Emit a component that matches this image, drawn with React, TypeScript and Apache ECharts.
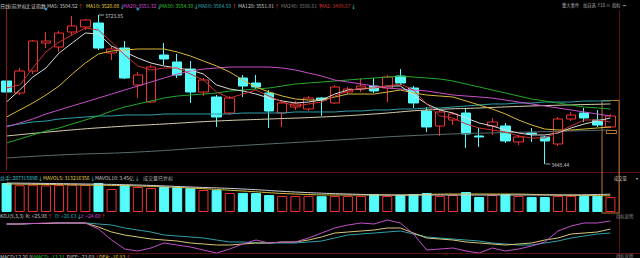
import React, { useEffect, useRef } from "react";
import * as echarts from "echarts";

const days = [
  "D01","D02","D03","D04","D05","D06","D07","D08","D09","D10",
  "D11","D12","D13","D14","D15","D16","D17","D18","D19","D20",
  "D21","D22","D23","D24","D25","D26","D27","D28","D29","D30",
  "D31","D32","D33","D34","D35","D36","D37","D38","D39","D40",
  "D41","D42","D43","D44","D45","D46","D47",
];

// [open, close, low, high]
const candles = [
  [3601.9, 3581.5, 3570.4, 3614.8],
  [3579.7, 3620.3, 3576.0, 3625.9],
  [3620.3, 3675.8, 3614.8, 3677.6],
  [3672.1, 3675.8, 3662.8, 3692.4],
  [3664.7, 3690.6, 3655.5, 3694.3],
  [3692.4, 3703.5, 3686.9, 3722.0],
  [3701.7, 3714.6, 3696.1, 3716.5],
  [3709.1, 3662.8, 3659.2, 3723.85],
  [3653.6, 3661.0, 3640.7, 3666.5],
  [3662.8, 3607.4, 3605.6, 3675.8],
  [3594.5, 3612.9, 3570.4, 3618.5],
  [3563.0, 3627.7, 3561.2, 3631.4],
  [3649.9, 3642.5, 3631.4, 3672.1],
  [3637.0, 3612.9, 3607.4, 3651.8],
  [3624.0, 3581.5, 3561.2, 3638.8],
  [3581.5, 3603.7, 3574.1, 3607.4],
  [3572.3, 3535.3, 3516.9, 3576.0],
  [3542.7, 3570.4, 3539.0, 3574.1],
  [3607.4, 3592.6, 3572.3, 3612.9],
  [3598.2, 3590.8, 3587.1, 3612.9],
  [3579.7, 3546.4, 3515.0, 3585.2],
  [3542.7, 3561.2, 3516.9, 3566.7],
  [3553.8, 3559.4, 3548.3, 3564.9],
  [3550.1, 3570.4, 3546.4, 3574.1],
  [3570.4, 3566.7, 3537.2, 3572.3],
  [3561.2, 3590.8, 3559.4, 3594.5],
  [3581.5, 3587.1, 3577.8, 3590.8],
  [3587.1, 3592.6, 3581.5, 3607.4],
  [3592.6, 3583.4, 3579.7, 3607.4],
  [3588.9, 3609.2, 3563.0, 3612.9],
  [3611.1, 3598.2, 3594.5, 3624.0],
  [3588.9, 3561.2, 3552.0, 3592.6],
  [3546.4, 3516.9, 3507.6, 3553.8],
  [3518.7, 3544.6, 3500.2, 3548.3],
  [3529.8, 3540.9, 3520.5, 3544.6],
  [3542.7, 3503.9, 3478.0, 3552.0],
  [3500.2, 3498.4, 3479.9, 3515.0],
  [3518.7, 3526.1, 3502.1, 3533.5],
  [3518.7, 3491.0, 3487.3, 3524.2],
  [3489.1, 3498.4, 3483.6, 3502.1],
  [3505.8, 3503.9, 3489.1, 3515.0],
  [3498.4, 3491.0, 3448.44, 3500.2],
  [3485.4, 3531.6, 3481.7, 3535.3],
  [3531.6, 3539.0, 3527.9, 3544.6],
  [3542.7, 3533.5, 3526.1, 3552.0],
  [3529.8, 3520.5, 3516.9, 3548.3],
  [3516.9, 3537.2, 3515.0, 3540.9],
];

// volume, millions of lots
const volumes = [
  561, 518, 527, 515, 521, 530, 524, 560, 445, 522,
  484, 464, 484, 480, 462, 426, 424, 368, 370, 366,
  329, 310, 308, 312, 306, 309, 311, 308, 348, 310,
  329, 348, 368, 310, 329, 387, 290, 329, 348, 310,
  292, 290, 310, 312, 309, 310, 287.3,
];

const ma2 = [
  3588.9, 3594.5, 3625.9, 3655.5, 3673.9, 3686.9, 3699.8, 3696.1, 3673.9, 3649.9,
  3629.6, 3622.2, 3625.9, 3625.9, 3614.8, 3603.7, 3581.5, 3570.4, 3577.8, 3585.2,
  3574.1, 3563.0, 3555.7, 3559.4, 3563.0, 3574.1, 3583.4, 3588.9, 3588.9, 3592.6,
  3596.3, 3585.2, 3559.4, 3537.2, 3533.5, 3522.4, 3515.0, 3511.3, 3507.6, 3500.2,
  3496.5, 3496.5, 3507.6, 3518.7, 3529.8, 3529.8, 3526.1,
];
const ma5 = [
  3563.0, 3585.2, 3609.2, 3625.9, 3653.6, 3672.1, 3690.6, 3688.7, 3666.5, 3655.5,
  3644.4, 3635.1, 3629.6, 3625.9, 3622.2, 3614.8, 3594.5, 3587.1, 3583.4, 3577.8,
  3570.4, 3564.9, 3561.2, 3563.0, 3566.7, 3577.8, 3585.2, 3587.1, 3588.9, 3592.6,
  3592.6, 3576.0, 3559.4, 3548.3, 3542.7, 3533.5, 3524.2, 3518.7, 3511.3, 3505.8,
  3502.1, 3502.1, 3505.8, 3515.0, 3522.4, 3527.9, 3533.5,
];
const ma10 = [
  3535.3, 3548.3, 3561.2, 3576.0, 3592.6, 3614.8, 3635.1, 3651.8, 3657.3, 3659.2,
  3661.0, 3661.0, 3661.0, 3655.5, 3648.1, 3638.8, 3629.6, 3618.5, 3603.7, 3590.8,
  3581.5, 3574.1, 3568.6, 3566.7, 3566.7, 3572.3, 3577.8, 3577.8, 3577.8, 3581.5,
  3585.2, 3579.7, 3576.0, 3574.1, 3572.3, 3564.9, 3557.5, 3550.1, 3540.9, 3529.8,
  3520.5, 3513.1, 3511.3, 3511.3, 3513.1, 3515.0, 3516.9,
];
const ma20 = [
  3516.9, 3524.2, 3531.6, 3540.9, 3548.3, 3555.7, 3563.0, 3570.4, 3577.8, 3585.2,
  3592.6, 3600.0, 3607.4, 3614.8, 3620.3, 3624.0, 3625.9, 3627.7, 3627.7, 3627.7,
  3627.7, 3625.9, 3622.2, 3616.6, 3611.1, 3603.7, 3600.0, 3596.3, 3592.6, 3588.9,
  3587.1, 3585.2, 3583.4, 3579.7, 3576.0, 3574.1, 3572.3, 3570.4, 3566.7, 3563.0,
  3559.4, 3555.7, 3552.0, 3548.3, 3544.6, 3540.9, 3537.2,
];
const ma30 = [
  3487.3, 3494.6, 3502.1, 3509.4, 3515.0, 3522.4, 3529.8, 3537.2, 3546.4, 3553.8,
  3559.4, 3564.9, 3570.4, 3574.1, 3576.0, 3577.8, 3579.7, 3583.4, 3585.2, 3587.1,
  3588.9, 3592.6, 3596.3, 3598.2, 3600.0, 3601.9, 3603.7, 3605.6, 3607.4, 3609.2,
  3611.1, 3609.2, 3607.4, 3605.6, 3601.9, 3596.3, 3590.8, 3585.2, 3579.7, 3574.1,
  3568.6, 3564.9, 3561.2, 3557.5, 3553.8, 3552.0, 3550.1,
];
const ma60 = [
  3518.7, 3522.4, 3526.1, 3527.9, 3531.6, 3533.5, 3535.3, 3537.2, 3537.2, 3539.0,
  3539.0, 3539.0, 3540.9, 3540.9, 3540.9, 3540.9, 3540.9, 3540.9, 3542.7, 3542.7,
  3542.7, 3542.7, 3544.6, 3544.6, 3544.6, 3544.6, 3546.4, 3546.4, 3548.3, 3548.3,
  3550.1, 3550.1, 3552.0, 3552.0, 3553.8, 3555.7, 3557.5, 3559.4, 3559.4, 3561.2,
  3561.2, 3563.0, 3563.0, 3563.0, 3564.9, 3564.9, 3564.9,
];
// [day index, value] key points
const ma120 = [
  [0, 3500.2], [4, 3509.4], [8, 3516.9], [12, 3522.4], [16, 3527.9], [20, 3531.6],
  [24, 3535.3], [28, 3540.9], [32, 3548.3], [36, 3552.0], [40, 3555.7], [46, 3559.4],
];
const ma240 = [
  [0, 3459.5], [4, 3465.1], [10, 3470.6], [16, 3479.9], [24, 3491.0], [32, 3502.1],
  [40, 3507.6], [46, 3511.3],
];
const mavol5 = [
  [0, 542], [6, 522], [10, 503], [14, 464], [18, 406], [22, 348], [26, 329],
  [30, 329], [34, 348], [38, 348], [42, 329], [46, 313],
];
const mavol10 = [
  [0, 561], [6, 542], [10, 522], [14, 484], [18, 445], [22, 387], [26, 348],
  [30, 329], [34, 329], [38, 329], [42, 329], [46, 345],
];
const kLine = [
  87, 87, 88.5, 88.5, 90, 90, 90, 78, 63, 54, 48, 42, 39, 36, 30, 27, 24, 24, 27, 30,
  30, 33, 33, 39, 48, 60, 63, 66, 69, 75, 75, 60, 45, 42, 39, 33, 30, 27, 24, 27,
  30, 39, 45, 57, 60, 63, 72,
];
const dLine = [
  87, 87, 88.5, 88.5, 90, 90, 90, 87, 84, 75, 69, 63, 54, 51, 48, 45, 39, 33, 33, 30,
  30, 30, 30, 33, 36, 45, 54, 57, 60, 63, 66, 57, 48, 45, 42, 39, 36, 30, 27, 24,
  24, 30, 36, 45, 51, 57, 60,
];
const jLine = [
  87, 87, 88.5, 90, 90, 90, 90, 72, 39, 12, 6, 15, 30, 24, 18, 9, 0, 12, 27, 39,
  30, 33, 33, 45, 60, 75, 84, 90, 87, 99, 90, 57, 9, 12, 15, 6, 0, 15, 6, 12,
  21, 33, 66, 81, 90, 90, 96,
];
const eventDays = [3, 10];
const eventLevel = 3734.9;

const FONT = '"Noto Sans CJK SC", "Noto Sans", sans-serif';
const RED = "#f03232";
const CYAN = "#54fcfc";
const W = "#c8c8c8";
const YEL = "#e0d040";
const MAG = "#d848d8";
const GRN = "#30c030";
const TEAL = "#30a8b8";
const GRAY = "#7a7a7a";

type Part = [string, string];
// text blocks: [left x, centre y, size, parts]
const texts: [number, number, number, Part[]][] = [
  [0, 5, 5, [["日线(前复权)", W]]],
  [26, 5, 5, [["上证指数", W]]],
  [47, 5, 5, [["MA5: 3504.52", W], ["↑", RED]]],
  [86, 5, 5, [["MA10: 3520.08", YEL], ["↓", CYAN]]],
  [123, 5, 5, [["MA20: 3551.32", MAG], ["↓", CYAN]]],
  [160, 5, 5, [["MA30: 3554.30", GRN], ["↓", CYAN]]],
  [198, 5, 5, [["MA60: 3564.50", TEAL], ["↑", RED]]],
  [238, 5, 5, [["MA120: 3551.01", W], ["↑", RED]]],
  [281, 5, 5, [["MA240: 3506.61", GRAY], ["↑", RED]]],
  [320, 5, 5, [["MA2: 3499.67", "#c83030"], ["↓", CYAN]]],
  [562, 5, 4.3, [["重大事件", "#b0b0b0"]]],
  [583, 5, 4.3, [["加自选", "#b0b0b0"]]],
  [598, 5, 4.3, [["F10", "#b0b0b0"]]],
  [606, 5, 4.3, [["≡", "#b0b0b0"]]],
  [612, 5, 4.3, [["指标", "#b0b0b0"]]],
  [623, 5, 4.3, [["⇤", "#d0d0d0"]]],
  [0, 177, 5, [["总手: 287315890", "#40c8d8"], ["↓", CYAN]]],
  [43, 177, 5, [["MAVOL5: 313216356", YEL], ["↓", CYAN]]],
  [95, 177, 5, [["MAVOL10: 3.45亿", W], ["↓", CYAN]]],
  [143, 177, 5, [["成交量已复权", "#a8a8a8"]]],
  [614, 177.5, 4.3, [["成交量", "#c0c0c0"]]],
  [636, 177.5, 4.3, [["▾", "#c0c0c0"]]],
  [0, 215, 5, [["KDJ(9,3,3)  K: +25.98", W], ["↑", RED]]],
  [55, 215, 5, [["D: +26.63", TEAL], ["↓", CYAN]]],
  [80, 215, 5, [["J: +24.68", MAG], ["↑", RED]]],
  [616, 216, 4.3, [["指标说明", "#909090"]]],
  [0, 256.5, 5, [["MACD(12,26,9)", W]]],
  [34, 256.5, 5, [["MACD: -13.31", GRN], ["↑", RED]]],
  [67, 256.5, 5, [["DIFF: -23.69", W], ["↑", RED]]],
  [99, 256.5, 5, [["DEA: -16.93", YEL], ["↑", RED]]],
  [616, 256, 4.3, [["指标说明", "#909090"]]],
];

function buildTexts() {
  const ctx = document.createElement("canvas").getContext("2d")!;
  ctx.font = `10px ${FONT}`;
  const out: any[] = [];
  texts.forEach(([x0, y, size, parts]) => {
    const s = size / 10;
    let x = x0;
    parts.forEach(([t, c]) => {
      out.push({
        type: "text", silent: true, x, y, scaleX: s, scaleY: s, z: 100,
        style: { text: t, fill: c, fontSize: 10, fontFamily: FONT, verticalAlign: "middle", align: "left" },
      });
      x += ctx.measureText(t).width * s + 0.6;
    });
  });
  return out;
}

function lineSeries(data: any[], color: string, grid: number, smooth = false) {
  return {
    type: "line", xAxisIndex: grid, yAxisIndex: grid, data, symbol: "none", smooth,
    lineStyle: { width: 1, color }, itemStyle: { color }, silent: true, z: 3,
  };
}

export default function App() {
  const ref = useRef<HTMLDivElement>(null);
  useEffect(() => {
    if (!ref.current) return;
    const chart = echarts.init(ref.current, null, { renderer: "svg" });
    let hi = 0, lo = 0;
    candles.forEach((c, i) => {
      if (c[3] > candles[hi][3]) hi = i;
      if (c[2] < candles[lo][2]) lo = i;
    });
    const option: any = {
      animation: false,
      backgroundColor: "#000",
      grid: [
        { left: 0, top: 8, width: 617, height: 162 },
        { left: 0, top: 181, width: 617, height: 31 },
        { left: 0, top: 218, width: 617, height: 35 },
      ],
      xAxis: [0, 1, 2].map((g) => ({
        type: "category", gridIndex: g, data: days, boundaryGap: true, show: false,
      })),
      yAxis: [
        { gridIndex: 0, min: 3437.35, max: 3736.8, show: false, splitLine: { show: false } },
        { gridIndex: 1, min: 0, max: 600, show: false, splitLine: { show: false } },
        { gridIndex: 2, min: 0, max: 105, show: false, splitLine: { show: false } },
      ],
      series: [
        {
          type: "candlestick", xAxisIndex: 0, yAxisIndex: 0, data: candles, barWidth: 10,
          silent: true,
          itemStyle: {
            color: "#000", color0: CYAN, borderColor: RED, borderColor0: CYAN, borderWidth: 1,
          },
          markLine: {
            silent: true, symbol: ["none", "none"], label: { show: false },
            lineStyle: { color: "#8a1c1c", width: 1, type: "solid" },
            data: [{ xAxis: days[0] }],
          },
          markPoint: {
            silent: true, symbol: "rect", symbolSize: [5, 0.8], symbolOffset: [3, 0],
            itemStyle: { color: W },
            label: {
              show: true, position: "right", distance: 1, color: W, fontSize: 5,
              fontFamily: FONT, formatter: (p: any) => p.value,
            },
            data: [
              { coord: [days[hi], candles[hi][3]], value: candles[hi][3].toFixed(2) },
              { coord: [days[lo], candles[lo][2]], value: candles[lo][2].toFixed(2) },
            ],
          },
        },
        lineSeries(ma240.map((p) => [days[p[0]], p[1]]), "#5a6e70", 0, true),
        lineSeries(ma120.map((p) => [days[p[0]], p[1]]), "#d8d0b0", 0, true),
        lineSeries(ma60, "#2e9ea8", 0),
        lineSeries(ma30, "#28a828", 0),
        lineSeries(ma20, "#c850c8", 0),
        lineSeries(ma10, "#d8b838", 0),
        lineSeries(ma5, "#d8d8d8", 0),
        lineSeries(ma2, "#c83030", 0),
        {
          type: "scatter", xAxisIndex: 0, yAxisIndex: 0, silent: true, symbolSize: 3,
          itemStyle: { color: "#3fa8e0" },
          data: eventDays.map((d) => [days[d], eventLevel]),
        },
        {
          type: "bar", xAxisIndex: 1, yAxisIndex: 1, barWidth: 10, silent: true,
          data: volumes.map((v, i) => {
            const up = candles[i][1] >= candles[i][0];
            return {
              value: v,
              itemStyle: up
                ? { color: "#000", borderColor: RED, borderWidth: 1 }
                : { color: CYAN, borderColor: CYAN, borderWidth: 1 },
            };
          }),
        },
        lineSeries(mavol5.map((p) => [days[p[0]], p[1]]), "#d8c040", 1, true),
        lineSeries(mavol10.map((p) => [days[p[0]], p[1]]), "#d0d0d0", 1, true),
        lineSeries(dLine, "#30a0a8", 2),
        lineSeries(kLine, "#d8c878", 2),
        lineSeries(jLine, "#c050c8", 2),
      ],
    };
    chart.setOption(option);
    const cx = chart.convertToPixel({ xAxisIndex: 0 }, days[days.length - 1]) as number;
    const band = 617 / days.length;
    const dark = "#5a1414";
    chart.setOption({
      graphic: [
        { type: "line", silent: true, shape: { x1: 0, y1: 172.5, x2: 640, y2: 172.5 }, style: { stroke: dark, lineWidth: 1 } },
        { type: "line", silent: true, shape: { x1: 0, y1: 253.5, x2: 640, y2: 253.5 }, style: { stroke: dark, lineWidth: 1 } },
        { type: "line", silent: true, shape: { x1: 619.5, y1: 10, x2: 619.5, y2: 258 }, style: { stroke: dark, lineWidth: 1 } },
        {
          type: "rect", silent: true,
          shape: { x: cx - band * 0.64, y: 100.5, width: band * 1.3, height: 112.5 },
          style: { fill: "none", stroke: "#b8782c", lineWidth: 1 },
        },
        {
          type: "rect", silent: true,
          shape: { x: cx - 4, y: 130.5, width: 10, height: 3 },
          style: { fill: "none", stroke: "#b8782c", lineWidth: 1 },
        },
        ...buildTexts(),
      ],
    });
    return () => chart.dispose();
  }, []);
  return (
    <div
      ref={ref}
      style={{ position: "fixed", left: 0, top: 0, width: 640, height: 258, background: "#000" }}
    />
  );
}
